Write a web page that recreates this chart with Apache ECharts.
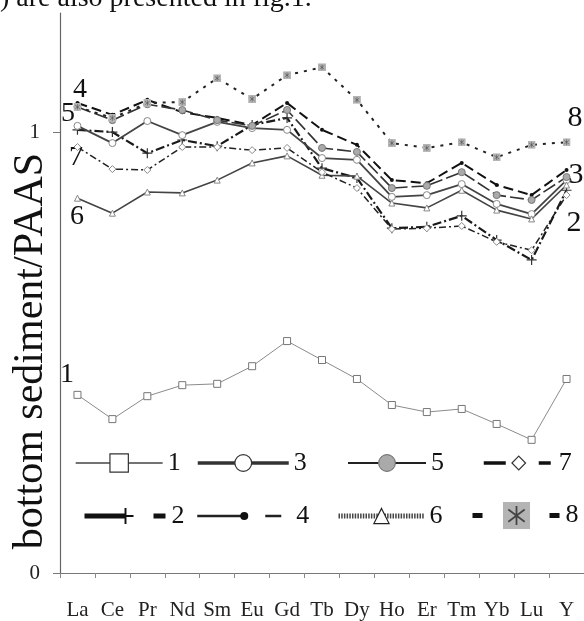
<!DOCTYPE html>
<html>
<head>
<meta charset="utf-8">
<script src="https://cdn.jsdelivr.net/npm/echarts@6/dist/echarts.min.js"></script>
<style>html,body{margin:0;padding:0;background:#fff;}#c{width:584px;height:621px;}</style>
</head>
<body>
<div id="c"></div>
<script>
const categories = ['La','Ce','Pr','Nd','Sm','Eu','Gd','Tb','Dy','Ho','Er','Tm','Yb','Lu','Y'];
const s1 = [0.404,0.349,0.401,0.426,0.429,0.469,0.526,0.483,0.440,0.381,0.365,0.372,0.338,0.302,0.440];
const s2 = [1.005,1.000,0.952,0.982,0.968,1.016,1.032,0.918,0.896,0.782,0.785,0.810,0.755,0.710,0.868];
const s3 = [1.014,0.975,1.025,0.993,1.023,1.009,1.005,0.941,0.937,0.853,0.857,0.882,0.837,0.814,0.891];
const s4 = [1.066,1.039,1.073,1.045,1.032,1.016,1.066,1.005,0.971,0.891,0.884,0.930,0.880,0.857,0.914];
const s5 = [1.057,1.027,1.063,1.050,1.027,1.014,1.050,0.964,0.955,0.873,0.878,0.909,0.857,0.846,0.898];
const s6 = [0.850,0.816,0.864,0.862,0.891,0.930,0.946,0.902,0.900,0.839,0.828,0.868,0.823,0.803,0.880];
const s7 = [0.966,0.916,0.914,0.966,0.966,0.959,0.964,0.909,0.873,0.780,0.782,0.787,0.751,0.732,0.857];
const s8 = [1.057,1.032,1.066,1.068,1.122,1.075,1.129,1.147,1.073,0.975,0.964,0.977,0.943,0.971,0.977];
const yTickLabels = [0, 1];

const SERIF = '"Liberation Serif", "DejaVu Serif", serif';
const svg8 = "<svg xmlns='http://www.w3.org/2000/svg' width='20' height='20'><rect width='20' height='20' fill='#b4b4b4'/><path d='M10 3V17M4 5.5L16 14.5M4 14.5L16 5.5' stroke='#444' stroke-width='1.3' fill='none'/></svg>";
const sym8 = 'image://data:image/svg+xml;charset=utf-8,' + encodeURIComponent(svg8);
const plusPath = 'path://M4.4,0h1.2v4.4h4.4v1.2h-4.4v4.4h-1.2v-4.4h-4.4v-1.2h4.4z';

const chart = echarts.init(document.getElementById('c'), null, {renderer: 'canvas'});

function leg(name, left, top, w, h, lineStyle, itemStyle) {
  const o = {
    data: [name], left: left, top: top, itemWidth: w, itemHeight: h,
    padding: 0, itemGap: 0, orient: 'horizontal', selectedMode: false,
    textStyle: {fontFamily: SERIF, fontSize: 26, color: '#111', padding: [0, 0, 0, 0]},
    lineStyle: lineStyle
  };
  if (itemStyle) o.itemStyle = itemStyle;
  return o;
}

const option = {
  animation: false,
  grid: {left: 60, right: -2, top: 13, bottom: 48, containLabel: false},
  xAxis: {
    type: 'category', data: categories, boundaryGap: true,
    axisLine: {show: true, lineStyle: {color: '#777', width: 1.2}},
    axisTick: {show: true, alignWithLabel: false, length: 5, lineStyle: {color: '#888'}},
    axisLabel: {fontFamily: SERIF, fontSize: 21, color: '#222', margin: 27, interval: 0}
  },
  yAxis: {
    type: 'value', min: 0, max: 1.27, interval: 1,
    splitLine: {show: false},
    axisLine: {show: true, lineStyle: {color: '#666', width: 1.2}},
    axisTick: {show: true, length: 7, customValues: yTickLabels, lineStyle: {color: '#777'}},
    axisLabel: {fontFamily: SERIF, fontSize: 21, color: '#222', margin: 20, customValues: yTickLabels}
  },
  legend: [
    leg('1', 75, 450, 87, 23, {color: '#444', width: 1.3, type: 'solid'}, {color: '#fff', borderColor: '#333', borderWidth: 1.2}),
    leg('3', 196, 450, 91, 21, {color: '#333', width: 3.5, type: 'solid'}, {color: '#fff', borderColor: '#333', borderWidth: 1.2}),
    leg('5', 347, 450, 78, 21, {color: '#222', width: 2, type: [30, 4, 100]}, {color: '#aaa', borderColor: '#666', borderWidth: 1}),
    leg('7', 482, 450, 70, 17, {color: '#111', width: 3.5, type: [22, 33, 12, 100]}, {color: '#fff', borderColor: '#333', borderWidth: 1.2}),
    leg('2', 82, 503, 82, 20, {color: '#111', width: 5, type: [41, 28, 12, 100]}, {color: '#111'}),
    leg('4', 196, 503, 94, 10, {color: '#222', width: 2.5, type: [45, 23, 16, 100]}, {color: '#111'}),
    leg('6', 336, 503, 86, 19, {color: '#444', width: 5, type: [1.5, 1.2]}, {color: '#fff', borderColor: '#222', borderWidth: 1.2}),
    leg('8', 470, 502, 88, 34, {color: '#111', width: 5, type: [10, 67, 10, 100]})
  ],
  series: [
    {name: '1', type: 'line', data: s1, symbol: 'rect', symbolSize: 7,
     lineStyle: {color: '#8a8a8a', width: 1}, itemStyle: {color: '#fff', borderColor: '#777', borderWidth: 1}},
    {name: '2', type: 'line', data: s2, symbol: plusPath, symbolSize: 10,
     lineStyle: {color: '#1a1a1a', width: 2.2, type: [9, 3, 2, 3]}, itemStyle: {color: '#333'}},
    {name: '3', type: 'line', data: s3, symbol: 'circle', symbolSize: 7,
     lineStyle: {color: '#444', width: 1.8}, itemStyle: {color: '#fff', borderColor: '#888', borderWidth: 1}},
    {name: '4', type: 'line', data: s4, symbol: 'circle', symbolSize: 4,
     lineStyle: {color: '#111', width: 2, type: [10, 5]}, itemStyle: {color: '#111'}},
    {name: '5', type: 'line', data: s5, symbol: 'circle', symbolSize: 7,
     lineStyle: {color: '#333', width: 1.6, type: [14, 4]}, itemStyle: {color: '#aaa', borderColor: '#777', borderWidth: 1}},
    {name: '6', type: 'line', data: s6, symbol: 'triangle', symbolSize: 6,
     lineStyle: {color: '#444', width: 1.6}, itemStyle: {color: '#fff', borderColor: '#888', borderWidth: 1}},
    {name: '7', type: 'line', data: s7, symbol: 'diamond', symbolSize: 7,
     lineStyle: {color: '#222', width: 1.5, type: [7, 3, 2, 3]}, itemStyle: {color: '#fff', borderColor: '#888', borderWidth: 1}},
    {name: '8', type: 'line', data: s8, symbol: sym8, symbolSize: 8,
     lineStyle: {color: '#222', width: 2, type: [3, 6]}, itemStyle: {color: '#b4b4b4'}}
  ],
  graphic: [
    {type: 'text', x: -14, y: 13, style: {text: '4) are also presented in fig.1.', font: '28px ' + SERIF, fill: '#111', verticalAlign: 'bottom'}},
    {type: 'text', x: 31, y: 351, rotation: Math.PI / 2, style: {text: 'bottom sediment/PAAS', font: '42px ' + SERIF, fill: '#111', align: 'center', verticalAlign: 'middle'}},
    {type: 'text', x: 80, y: 90, style: {text: '4', font: '28px ' + SERIF, fill: '#111', align: 'center', verticalAlign: 'middle'}},
    {type: 'text', x: 68, y: 114, style: {text: '5', font: '28px ' + SERIF, fill: '#111', align: 'center', verticalAlign: 'middle'}},
    {type: 'text', x: 76, y: 158, style: {text: '7', font: '28px ' + SERIF, fill: '#111', align: 'center', verticalAlign: 'middle'}},
    {type: 'text', x: 77, y: 217, style: {text: '6', font: '28px ' + SERIF, fill: '#111', align: 'center', verticalAlign: 'middle'}},
    {type: 'text', x: 67, y: 375, style: {text: '1', font: '28px ' + SERIF, fill: '#111', align: 'center', verticalAlign: 'middle'}},
    {type: 'text', x: 575, y: 118, style: {text: '8', font: '30px ' + SERIF, fill: '#111', align: 'center', verticalAlign: 'middle'}},
    {type: 'text', x: 576, y: 175, style: {text: '3', font: '30px ' + SERIF, fill: '#111', align: 'center', verticalAlign: 'middle'}},
    {type: 'text', x: 574, y: 223, style: {text: '2', font: '30px ' + SERIF, fill: '#111', align: 'center', verticalAlign: 'middle'}}
  ]
};
chart.setOption(option);
</script>
</body>
</html>
